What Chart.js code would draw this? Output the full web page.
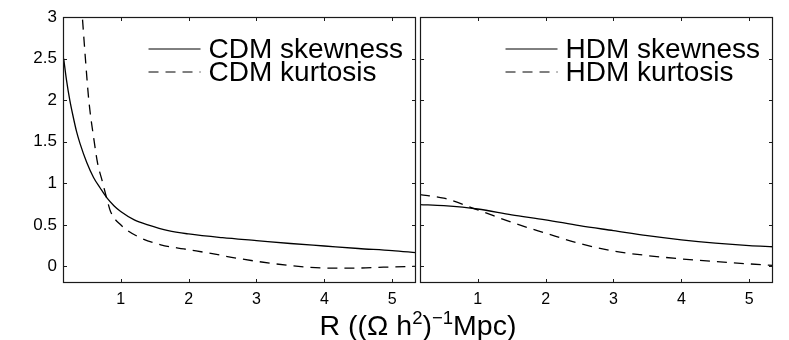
<!DOCTYPE html>
<html>
<head>
<meta charset="utf-8">
<script src="https://cdn.jsdelivr.net/npm/chart.js@4.4.9/dist/chart.umd.min.js"></script>
<style>
  body { margin: 0; background: #fff; }
  #wrap { position: relative; width: 789px; height: 340px; }
  canvas { position: absolute; top: 0; }
  #xtitle {
    position: absolute; left: 418px; top: 311px; transform: translateX(-50%);
    font: 28.5px "Liberation Sans", Arial, sans-serif; line-height: 28px;
    white-space: nowrap; color: #000;
  }
  #xtitle sup { font-size: 0.65em; line-height: 0; vertical-align: 0.6em; }
</style>
</head>
<body>
<div id="wrap">
  <canvas id="cdm-chart" width="418" height="340" style="left:0"></canvas>
  <canvas id="hdm-chart" width="371" height="340" style="left:418px"></canvas>
  <div id="xtitle">R ((Ω h<sup>2</sup>)<sup>−1</sup>Mpc)</div>
</div>
<script>
const xTicks = [1, 2, 3, 4, 5];
const yTicks = [0, 0.5, 1, 1.5, 2, 2.5, 3];

// CDM panel
const cdmSkewR = [0.16, 0.2, 0.25, 0.3, 0.35, 0.4, 0.5, 0.6, 0.7, 0.8, 0.9, 1.0, 1.2, 1.4, 1.7, 2.0, 2.5, 3.0, 3.5, 4.0, 4.5, 5.0, 5.35];
const cdmSkew  = [2.5, 2.25, 2.0, 1.8, 1.62, 1.48, 1.25, 1.07, 0.94, 0.82, 0.73, 0.66, 0.56, 0.5, 0.43, 0.39, 0.345, 0.31, 0.275, 0.245, 0.215, 0.19, 0.165];
const cdmKurtR = [0.3, 0.38, 0.435, 0.48, 0.53, 0.61, 0.66, 0.73, 0.8, 0.85, 1.0, 1.25, 1.59, 1.93, 2.3, 2.77, 3.5, 4.04, 4.5, 4.87, 5.35];
const cdmKurt  = [4.6, 3.6, 3.0, 2.5, 2.0, 1.5, 1.24, 1.02, 0.8, 0.66, 0.5, 0.36, 0.26, 0.21, 0.16, 0.09, 0.01, -0.02, -0.02, -0.01, 0.0];

// HDM panel
const hdmSkewR = [0.15, 0.5, 1.0, 1.5, 2.0, 2.5, 3.0, 3.5, 4.0, 4.5, 5.0, 5.35];
const hdmSkew  = [0.744, 0.73, 0.69, 0.62, 0.56, 0.49, 0.43, 0.37, 0.32, 0.28, 0.25, 0.236];
const hdmKurtR = [0.15, 0.5, 1.0, 1.5, 2.0, 2.5, 3.0, 3.5, 4.0, 4.5, 5.0, 5.35];
const hdmKurt  = [0.864, 0.82, 0.68, 0.53, 0.4, 0.275, 0.185, 0.13, 0.09, 0.058, 0.03, 0.012];

const FONT = '"Liberation Sans", Arial, sans-serif';

const toPoints = (xs, ys) => xs.map((x, i) => ({ x: x, y: ys[i] }));

// box + inward ticks on all four sides, matlab style
const framePlugin = {
    id: 'frame',
    afterDatasetsDraw(chart) {
        const { ctx, chartArea: a, scales: { x, y } } = chart;
        ctx.save();
        ctx.strokeStyle = '#1a1a1a';
        ctx.lineWidth = 1.2;
        ctx.strokeRect(a.left + 0.5, a.top + 0.5, a.right - a.left - 1, a.bottom - a.top - 1);
        ctx.lineWidth = 1;
        ctx.beginPath();
        xTicks.forEach(v => {
            const px = Math.round(x.getPixelForValue(v)) + 0.5;
            ctx.moveTo(px, a.bottom); ctx.lineTo(px, a.bottom - 4);
            ctx.moveTo(px, a.top); ctx.lineTo(px, a.top + 4);
        });
        yTicks.forEach(v => {
            const py = Math.round(y.getPixelForValue(v)) + 0.5;
            ctx.moveTo(a.left, py); ctx.lineTo(a.left + 4, py);
            ctx.moveTo(a.right, py); ctx.lineTo(a.right - 4, py);
        });
        ctx.stroke();
        ctx.restore();
    }
};

const legendPlugin = {
    id: 'panelLegend',
    afterDraw(chart) {
        const { ctx, chartArea: a } = chart;
        const sets = chart.data.datasets;
        ctx.save();
        ctx.font = '28px ' + FONT;
        const w = Math.max(...sets.map(d => ctx.measureText(d.label).width));
        const textX = a.right - 13 - w;
        sets.forEach((d, i) => {
            const ly = 49 + i * 23;
            ctx.strokeStyle = '#000';
            ctx.lineWidth = 1;
            ctx.setLineDash(d.borderDash || []);
            ctx.beginPath();
            ctx.moveTo(textX - 60, ly);
            ctx.lineTo(textX - 8, ly);
            ctx.stroke();
            ctx.setLineDash([]);
            ctx.fillStyle = '#000';
            ctx.textBaseline = 'middle';
            ctx.fillText(d.label, textX, ly + 1);
        });
        ctx.restore();
    }
};

const makePanel = (id, name, skewR, skew, kurtR, kurt, showY, padding) => {
    const ctx = document.getElementById(id).getContext('2d');
    return new Chart(ctx, {
        type: 'line',
        data: {
            datasets: [{
                label: name + ' skewness',
                data: toPoints(skewR, skew),
                borderColor: '#000',
                borderWidth: 1.3,
                pointRadius: 0,
                cubicInterpolationMode: 'monotone',
                clip: 0
            }, {
                label: name + ' kurtosis',
                data: toPoints(kurtR, kurt),
                borderColor: '#000',
                borderWidth: 1.3,
                borderDash: [10, 7],
                pointRadius: 0,
                cubicInterpolationMode: 'monotone',
                clip: 0
            }]
        },
        options: {
            responsive: false,
            animation: false,
            devicePixelRatio: 1,
            layout: { padding: padding },
            plugins: { legend: { display: false }, tooltip: { enabled: false } },
            scales: {
                x: {
                    type: 'linear',
                    min: 0.15,
                    max: 5.35,
                    afterBuildTicks: s => { s.ticks = xTicks.map(v => ({ value: v })); },
                    afterFit: s => { s.height = 57; },
                    grid: { display: false, drawTicks: false },
                    border: { display: false },
                    ticks: { color: '#000', padding: 7, font: { family: FONT, size: 16 }, maxRotation: 0 }
                },
                y: {
                    type: 'linear',
                    min: -0.2,
                    max: 3,
                    afterBuildTicks: s => { s.ticks = yTicks.map(v => ({ value: v })); },
                    afterFit: s => { s.width = showY ? 63 : 0; },
                    grid: { display: false, drawTicks: false },
                    border: { display: false },
                    ticks: {
                        display: showY,
                        color: '#000',
                        padding: 6,
                        font: { family: FONT, size: 17 },
                        callback: v => String(v)
                    }
                }
            }
        },
        plugins: [framePlugin, legendPlugin]
    });
};

makePanel('cdm-chart', 'CDM', cdmSkewR, cdmSkew, cdmKurtR, cdmKurt, true, { top: 17, right: 2, left: 0, bottom: 0 });
makePanel('hdm-chart', 'HDM', hdmSkewR, hdmSkew, hdmKurtR, hdmKurt, false, { top: 17, right: 16, left: 2, bottom: 0 });
</script>
</body>
</html>
